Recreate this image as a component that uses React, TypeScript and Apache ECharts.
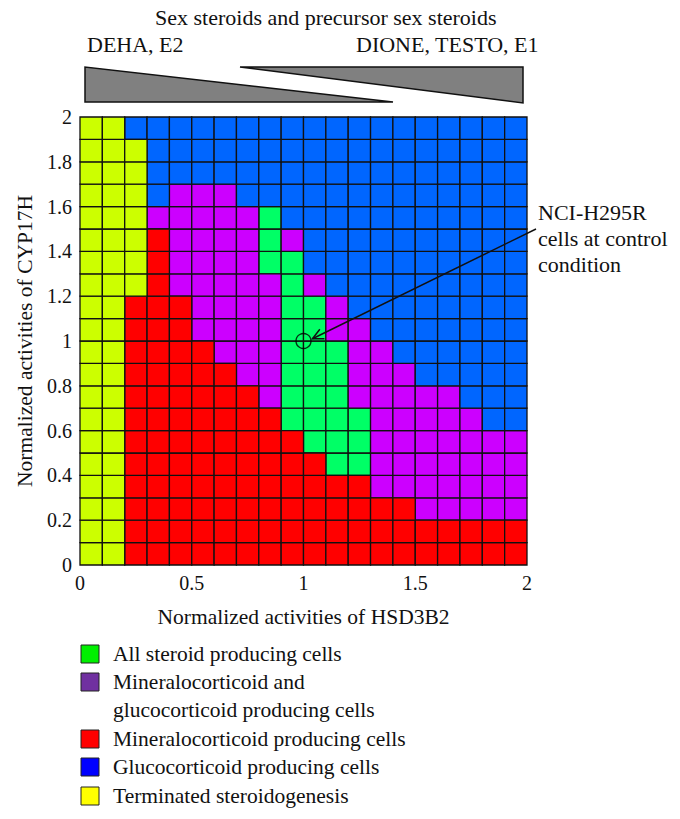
import React, { useEffect, useRef } from "react";
import * as echarts from "echarts";

// Cell classes, rows from bottom (CYP17H 0.0-0.1) to top (1.9-2.0); columns HSD3B2 0.0 .. 1.9
// G = all steroid producing, P = mineralo+gluco, R = mineralocorticoid, B = glucocorticoid, Y = terminated
const rowCodes: string[] = [
  "YYRRRRRRRRRRRRRRRRRR", // 0.0
  "YYRRRRRRRRRRRRRRRRRR", // 0.1
  "YYRRRRRRRRRRRRRPPPPP", // 0.2
  "YYRRRRRRRRRRRPPPPPPP", // 0.3
  "YYRRRRRRRRRGGPPPPPPP", // 0.4
  "YYRRRRRRRRGGGPPPPPPP", // 0.5
  "YYRRRRRRRGGGGPPPPPBB", // 0.6
  "YYRRRRRRPGGGPPPPPBBB", // 0.7
  "YYRRRRRPPGGGPPPBBBBB", // 0.8
  "YYRRRRPPPGGGPPBBBBBB", // 0.9
  "YYRRRPPPPGGPPBBBBBBB", // 1.0
  "YYRRRPPPPGGPBBBBBBBB", // 1.1
  "YYYRPPPPPGPBBBBBBBBB", // 1.2
  "YYYRPPPPGGBBBBBBBBBB", // 1.3
  "YYYRPPPPGPBBBBBBBBBB", // 1.4
  "YYYPPPPPGBBBBBBBBBBB", // 1.5
  "YYYBPPPBBBBBBBBBBBBB", // 1.6
  "YYYBBBBBBBBBBBBBBBBB", // 1.7
  "YYYBBBBBBBBBBBBBBBBB", // 1.8
  "YYBBBBBBBBBBBBBBBBBB", // 1.9
];
const cellSize = 0.1;

const classCodes = ["G", "P", "R", "B", "Y"];
const classNames = [
  "All steroid producing cells",
  "Mineralocorticoid and\nglucocorticoid producing cells",
  "Mineralocorticoid producing cells",
  "Glucocorticoid producing cells",
  "Terminated steroidogenesis",
];
const xTicks = [0, 0.5, 1, 1.5, 2];
const yTicks = [0, 0.2, 0.4, 0.6, 0.8, 1, 1.2, 1.4, 1.6, 1.8, 2];
const controlPoint = [1, 1];

const cellColors: Record<string, string> = {
  G: "#00ff66",
  P: "#cc00ff",
  R: "#ff0000",
  B: "#0066ff",
  Y: "#ccff00",
};
const swatchColors: Record<string, string> = {
  G: "#00f000",
  P: "#7030a0",
  R: "#ff0000",
  B: "#0000ff",
  Y: "#ffff00",
};

const FONT = "'Liberation Serif', 'DejaVu Serif', serif";

export default function App() {
  const ref = useRef<HTMLDivElement>(null);
  useEffect(() => {
    document.body.style.margin = "0";
    const chart = echarts.init(ref.current!, null, { renderer: "svg" });

    const seriesList: any[] = classCodes.map((code, k) => {
      const data: number[][] = [];
      rowCodes.forEach((row, j) => {
        for (let i = 0; i < row.length; i++) {
          if (row[i] === code) data.push([+(i * cellSize).toFixed(2), +(j * cellSize).toFixed(2)]);
        }
      });
      return {
        type: "custom",
        name: classNames[k],
        data,
        encode: { x: 0, y: 1 },
        renderItem: (params: any, api: any) => {
          const x = api.value(0);
          const y = api.value(1);
          const p0 = api.coord([x, y + cellSize]);
          const p1 = api.coord([x + cellSize, y]);
          return {
            type: "rect",
            shape: { x: p0[0], y: p0[1], width: p1[0] - p0[0], height: p1[1] - p0[1] },
            style: { fill: cellColors[code], stroke: "#111", lineWidth: 1.3 },
          };
        },
        z: 2,
      };
    });

    seriesList.push({
      type: "scatter",
      name: "control",
      data: [controlPoint],
      symbol: "circle",
      symbolSize: 15,
      itemStyle: { color: "rgba(0,0,0,0)", borderColor: "#000", borderWidth: 1.4 },
      z: 5,
      silent: true,
    });

    const legendGraphics: any[] = [];
    const legendTops = [654, 682, 739, 767, 796];
    classCodes.forEach((code, k) => {
      legendGraphics.push({
        type: "rect",
        shape: { x: 81, y: legendTops[k] - 9, width: 18, height: 18 },
        style: { fill: swatchColors[code], stroke: "#222", lineWidth: 1 },
      });
      legendGraphics.push({
        type: "text",
        x: 113,
        y: legendTops[k] - 14.5,
        style: {
          text: classNames[k],
          font: `21.5px ${FONT}`,
          fill: "#111",
          lineHeight: 28.5,
          textVerticalAlign: "top",
        },
      });
    });

    const option: any = {
      animation: false,
      grid: { left: 80, right: 153, top: 117, bottom: 254 },
      xAxis: {
        type: "value",
        min: 0,
        max: 2,
        interval: 0.5,
        name: "Normalized activities of HSD3B2",
        nameLocation: "middle",
        nameGap: 41,
        nameTextStyle: { fontFamily: FONT, fontSize: 21.5, color: "#111" },
        axisLine: { show: false },
        axisTick: { show: false },
        splitLine: { show: false },
        axisLabel: {
          fontFamily: FONT,
          fontSize: 20,
          color: "#111",
          margin: 8,
          formatter: (v: number) => (xTicks.includes(v) ? String(v) : ""),
        },
      },
      yAxis: {
        type: "value",
        min: 0,
        max: 2,
        interval: 0.2,
        name: "Normalized activities of CYP17H",
        nameLocation: "middle",
        nameGap: 44,
        nameTextStyle: { fontFamily: FONT, fontSize: 21.5, color: "#111" },
        axisLine: { show: false },
        axisTick: { show: false },
        splitLine: { show: false },
        axisLabel: {
          fontFamily: FONT,
          fontSize: 20,
          color: "#111",
          margin: 8,
          formatter: (v: number) => {
            const t = yTicks.find((q) => Math.abs(q - v) < 1e-6);
            return t === undefined ? "" : String(t);
          },
        },
      },
      series: seriesList,
      graphic: [
        {
          type: "text",
          x: 155,
          y: 6,
          style: {
            text: "Sex steroids and precursor sex steroids",
            font: `22px ${FONT}`,
            fill: "#111",
          },
        },
        {
          type: "text",
          x: 87,
          y: 33,
          style: { text: "DEHA, E2", font: `22px ${FONT}`, fill: "#111" },
        },
        {
          type: "text",
          x: 356,
          y: 33,
          style: { text: "DIONE, TESTO, E1", font: `22px ${FONT}`, fill: "#111" },
        },
        {
          type: "polygon",
          shape: { points: [[85, 67], [85, 102], [393, 102]] },
          style: { fill: "#808080", stroke: "#111", lineWidth: 1.5 },
        },
        {
          type: "polygon",
          shape: { points: [[240, 67], [523, 67], [523, 103]] },
          style: { fill: "#808080", stroke: "#111", lineWidth: 1.5 },
        },
        {
          type: "text",
          x: 538,
          y: 199,
          style: {
            text: "NCI-H295R\ncells at control\ncondition",
            font: `22px ${FONT}`,
            fill: "#111",
            lineHeight: 26,
          },
        },
        ...legendGraphics,
      ],
    };
    chart.setOption(option);

    // arrow from annotation to control point, positioned through the axes
    const start = [536, 229];
    const tip = chart.convertToPixel({ gridIndex: 0 }, [controlPoint[0] + 0.04, controlPoint[1] + 0.01]) as number[];
    const ang = Math.atan2(start[1] - tip[1], start[0] - tip[0]);
    const headLen = 12;
    const spread = 0.45;
    const h1 = [tip[0] + headLen * Math.cos(ang + spread), tip[1] + headLen * Math.sin(ang + spread)];
    const h2 = [tip[0] + headLen * Math.cos(ang - spread), tip[1] + headLen * Math.sin(ang - spread)];
    chart.setOption({
      graphic: [
        ...option.graphic,
        {
          type: "line",
          shape: { x1: start[0], y1: start[1], x2: tip[0], y2: tip[1] },
          style: { stroke: "#111", lineWidth: 1.5 },
          z: 10,
        },
        {
          type: "polyline",
          shape: { points: [h1, tip, h2] },
          style: { stroke: "#111", lineWidth: 1.5, fill: "none" },
          z: 10,
        },
      ],
    });

    return () => chart.dispose();
  }, []);
  return <div ref={ref} style={{ width: 680, height: 819 }} />;
}
